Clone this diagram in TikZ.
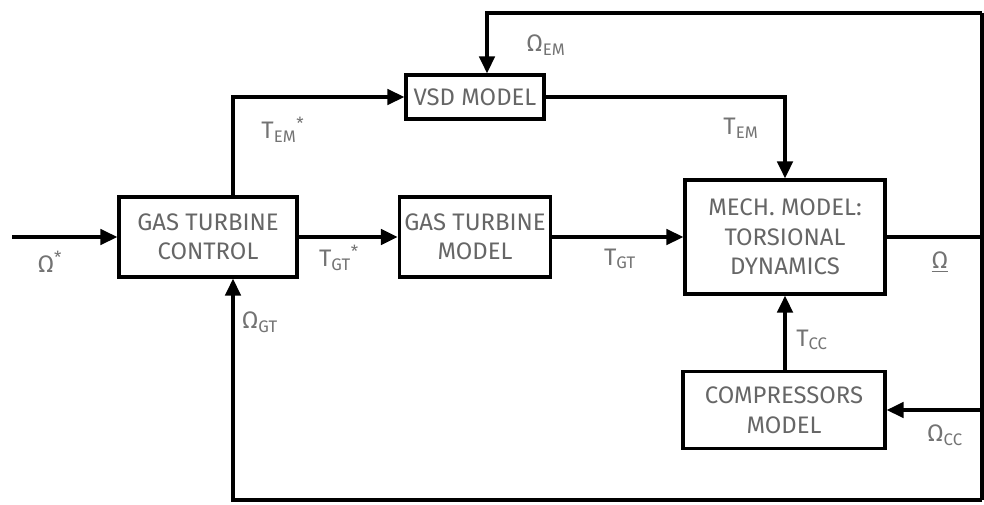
\documentclass[tikz,border=0pt]{standalone}
\usepackage{fontspec}
\setmainfont{Fira Sans}
\usetikzlibrary{arrows.meta}

\begin{document}
\begin{tikzpicture}[
    block/.style={draw, line width=2.4pt, align=center, text=black!60, font=\fontsize{17}{21}\selectfont},
    sig/.style={line width=2.4pt, -{Triangle[length=12pt,width=11pt]}},
    wire/.style={line width=2.4pt},
    lbl/.style={text=black!55, font=\fontsize{17}{20}\selectfont}
]
    \useasboundingbox (0,0) rectangle (24.6,12.6);

    % blocks
    \node[block, minimum width=4.45cm, minimum height=2cm] (gtc) at (5.2, 6.675) {GAS TURBINE\\CONTROL};
    \node[block, minimum width=3.78cm, minimum height=2cm] (gtm) at (11.875, 6.675) {GAS TURBINE\\MODEL};
    \node[block, minimum width=3.45cm, minimum height=1.1cm] (vsd) at (11.875, 10.175) {VSD MODEL};
    \node[block, minimum width=5cm, minimum height=2.85cm] (mech) at (19.625, 6.675) {MECH. MODEL:\\TORSIONAL\\DYNAMICS};
    \node[block, minimum width=5.05cm, minimum height=1.93cm] (comp) at (19.6, 2.35) {COMPRESSORS\\MODEL};

    % corner points
    \coordinate (in) at (0.3, 6.675);
    \coordinate (tr) at (24.55, 12.275);
    \coordinate (tl) at (12.175, 12.275);
    \coordinate (br) at (24.55, 0.1);
    \coordinate (ta) at (5.825, 0.1);

    % signals
    \draw[sig] (in) -- (gtc);
    \draw[sig] (gtc) -- (gtm);
    \draw[sig] (gtm) -- (mech);
    \draw[sig] (gtc.north -| ta) |- (vsd.west);
    \draw[sig] (vsd.east) -| (mech.north);
    \draw[wire] (mech.east) -| (tr) -- (br);
    \draw[sig] (tr) -- (tl) -- (tl |- vsd.north);
    \draw[sig] (br) -- (ta) -- (gtc.south -| ta);
    \draw[sig] (br |- comp) -- (comp.east);
    \draw[sig] (comp.north -| mech.south) -- (mech.south);

    % labels
    \node[lbl] (lomref) at (1.25, 6.05) {Ω\textsuperscript{*}};
    \node[lbl] (ltemref) at (7.075, 9.35) {T\textsubscript{EM}\textsuperscript{*}};
    \node[lbl] (lomem) at (13.65, 11.475) {Ω\textsubscript{EM}};
    \node[lbl] (ltem) at (18.525, 9.4) {T\textsubscript{EM}};
    \node[lbl] (ltgtref) at (8.475, 6.15) {T\textsubscript{GT}\textsuperscript{*}};
    \node[lbl] (ltgt) at (15.5, 6.125) {T\textsubscript{GT}};
    \node[lbl] (lom) at (23.5, 6.05) {\underline{Ω}};
    \node[lbl] (lomgt) at (6.5, 4.55) {Ω\textsubscript{GT}};
    \node[lbl] (ltcc) at (20.3, 4.1) {T\textsubscript{CC}};
    \node[lbl] (lomcc) at (23.625, 1.725) {Ω\textsubscript{CC}};
\end{tikzpicture}
\end{document}
